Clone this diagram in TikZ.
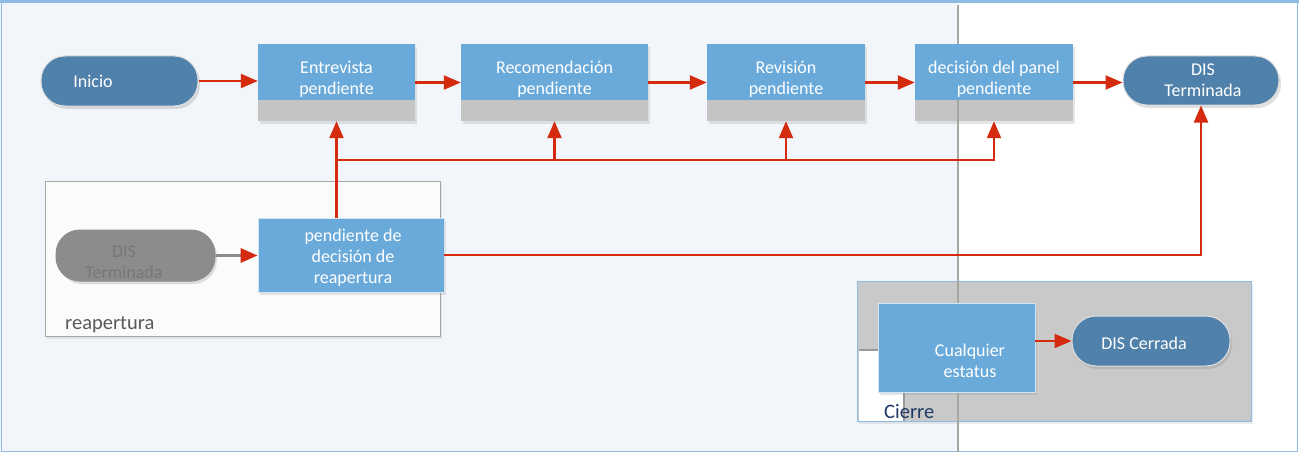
\documentclass[tikz,border=0pt]{standalone}
\usepackage{fontspec}
\setmainfont{Carlito}
\usetikzlibrary{arrows.meta,shadows,calc}
\definecolor{pillblue}{HTML}{4F81AB}
\definecolor{boxblue}{HTML}{6AAADA}
\definecolor{shgray}{HTML}{C4C4C4}
\definecolor{arrred}{HTML}{D42A0E}
\definecolor{bgleft}{HTML}{F2F6FA}
\definecolor{frameblue}{HTML}{8DBBE3}
\definecolor{lanegray}{HTML}{A6A6A2}
\definecolor{navy}{HTML}{1F3864}
\definecolor{ghostpill}{HTML}{8C8C8C}
\definecolor{ghosttext}{HTML}{777777}
\newcommand{\boxfont}{\fontsize{18}{21}\selectfont}
\newcommand{\lblfont}{\fontsize{20.5}{24}\selectfont}
\begin{document}
\begin{tikzpicture}[x=1pt,y=-1pt,
  arr/.style={draw=arrred, line width=2.2pt, -{Triangle[length=17pt,width=14pt]}},
  pill/.style={rectangle, rounded corners=24pt, fill=pillblue, draw=white!75!gray, line width=1pt,
    minimum width=157pt, minimum height=50pt, inner sep=0pt,
    drop shadow={opacity=0.25, shadow xshift=2pt, shadow yshift=-3pt}},
  stepbox/.style={rectangle, fill=shgray, minimum height=77pt, inner sep=0pt,
    drop shadow={opacity=0.2, shadow xshift=2pt, shadow yshift=-3pt}},
  bluebox/.style={rectangle, fill=boxblue, draw=white!70!boxblue, line width=0.8pt, inner sep=0pt,
    drop shadow={opacity=0.2, shadow xshift=2pt, shadow yshift=-3pt}},
  btxt/.style={align=center, text=white, font=\boxfont, inner sep=0pt},
  cont/.style={rectangle, inner sep=0pt, line width=1pt,
    drop shadow={opacity=0.15, shadow xshift=2pt, shadow yshift=-3pt}},
  lbl/.style={font=\lblfont, inner sep=0pt, anchor=west}
]
\useasboundingbox (0,0) rectangle (1299,452);
% background
\fill[bgleft] (0,0) rectangle (958,452);
\fill[white] (958,0) rectangle (1299,452);
\draw[frameblue, line width=1pt] (1,2) rectangle (1297,451);
\draw[frameblue, line width=2.5pt] (0,1.5) -- (1299,1.5);

% containers
\node[cont, fill=white!97!gray, draw=gray!70, minimum width=395pt, minimum height=155pt] (reap) at (242.5,258.5) {};
\node[lbl, text=black!65] (reaplbl) at (65,325) {reapertura};
\node[cont, fill=black!21, draw=frameblue, minimum width=394pt, minimum height=140pt] (cierre) at (1054,351) {};
\fill[white] (858.5,351) rectangle (904,420.5);
\draw[gray!80, line width=1.5pt] (858.5,350) -- (878,350);
\draw[gray!80, line width=1.5pt] (904,393) -- (904,420.5);
\node[lbl, text=navy] (cierrelbl) at (884,412) {Cierre};

% step boxes (gray lower part)
\node[stepbox, minimum width=157pt] (e) at (336.5,82.5) {};
\node[stepbox, minimum width=187pt] (rec) at (554.5,82.5) {};
\node[stepbox, minimum width=158pt] (rev) at (786,82.5) {};
\node[stepbox, minimum width=158pt] (pan) at (994,82.5) {};

% lane line
\draw[lanegray, line width=2pt] (958,5) -- (958,452);

% blue upper parts
\foreach \n in {e,rec,rev,pan}{
  \fill[boxblue] (\n.north west) rectangle ([yshift=21pt]\n.south east);
}
\node[btxt] at ($(e.center)+(0,-3)$) {Entrevista\\pendiente};
\node[btxt] at ($(rec.center)+(0,-3)$) {Recomendación\\pendiente};
\node[btxt] at ($(rev.center)+(0,-3)$) {Revisión\\pendiente};
\node[btxt] at ($(pan.center)+(0,-3)$) {decisión del panel\\pendiente};

% pills
\node[pill] (ini) at (119.5,81) {};
\node[btxt] at (93,81) {Inicio};
\node[pill, minimum width=156pt, minimum height=49pt] (dis) at (1201,80.5) {};
\node[btxt] at (1203,80) {DIS\\Terminada};

% reopening
\node[pill, fill=ghostpill, draw=ghostpill, minimum width=159pt, minimum height=51pt] (gp) at (135.5,255.5) {};
\node[btxt, text=ghosttext] at (124,262) {DIS\\Terminada};
\node[bluebox, minimum width=186pt, minimum height=74pt] (r) at (351,255) {};
\node[btxt] at (353,258) {pendiente de\\decisión de\\reapertura};

% closing
\node[bluebox, minimum width=157pt, minimum height=89pt] (cq) at (956.5,347.5) {};
\node[btxt] at (970,361) {Cualquier\\estatus};
\node[pill, minimum width=158pt, minimum height=50pt] (dc) at (1151,341) {};
\node[btxt] at (1144,343) {DIS Cerrada};

% connectors
\draw[arr] (ini.east) -- (ini.east -| e.west);
\draw[arr] (e.east) -- (rec.west);
\draw[arr] (rec.east) -- (rev.west);
\draw[arr] (rev.east) -- (pan.west);
\draw[arr] (pan.east) -- (pan.east -| dis.west);
\coordinate (j) at (336.5,160);
\draw[arr] (r.north -| e.south) -- (e.south);
\draw[arr] (j) -| (rec.south);
\draw[arr] (j) -| (rev.south);
\draw[arr] (j) -| (pan.south);
\draw[arr] (r.east) -| (dis.south);
\draw[draw=ghostpill, line width=3pt, -{Triangle[length=17pt,width=14pt,color=arrred]}] (gp.east) -- (gp.east -| r.west);
\draw[arr] (dc.west -| cq.east) -- (dc.west);
\end{tikzpicture}
\end{document}
